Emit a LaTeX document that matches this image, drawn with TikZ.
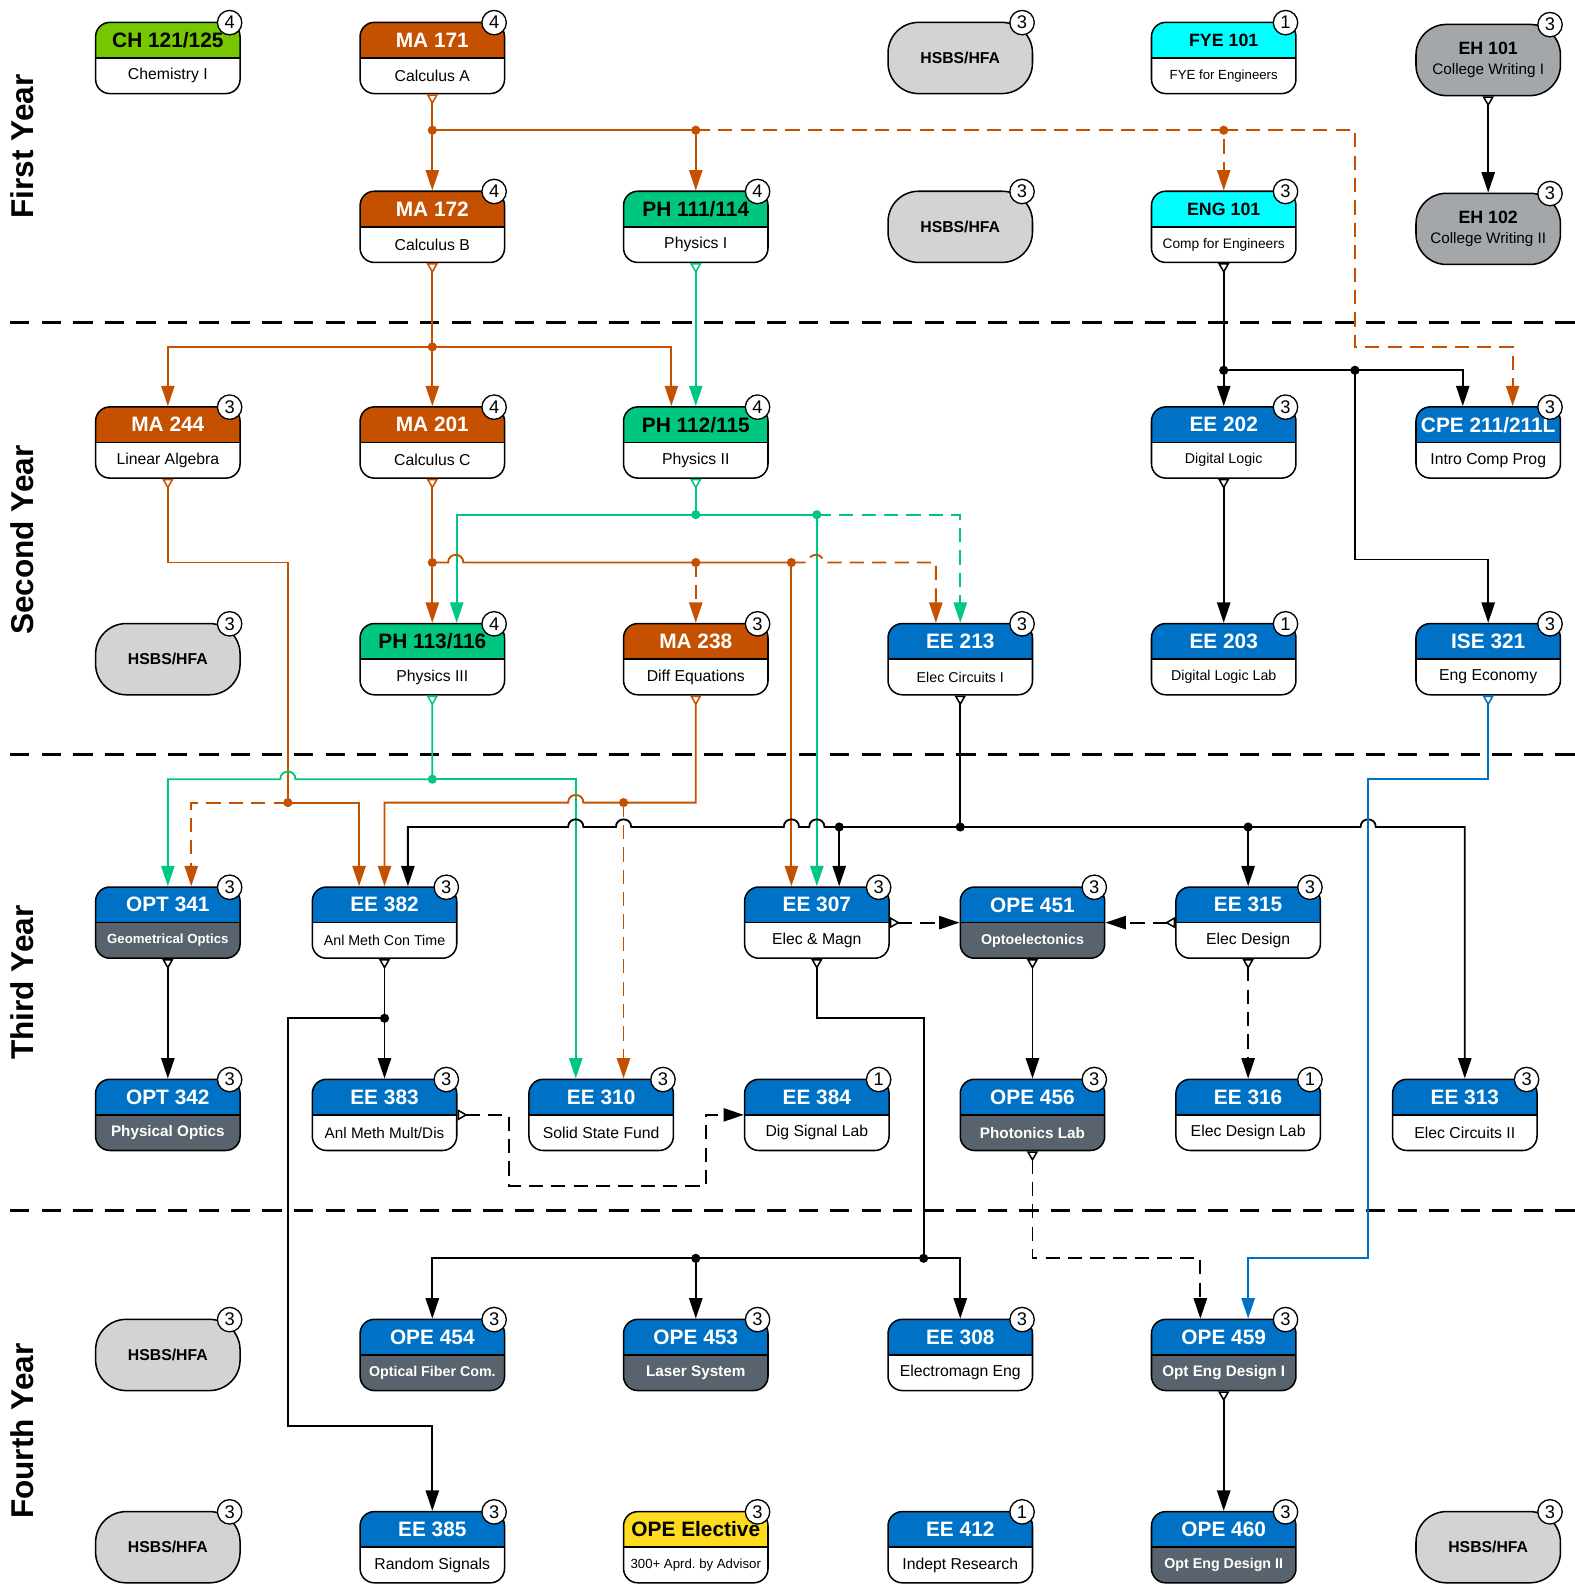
\documentclass[tikz,border=0pt]{standalone}
\usepackage{fontspec}
\setmainfont{Liberation Sans}
\usetikzlibrary{arrows.meta}

\definecolor{mathc}{RGB}{197,80,0}
\definecolor{physc}{RGB}{0,199,128}
\definecolor{chemc}{RGB}{118,198,0}
\definecolor{fyec}{RGB}{0,255,255}
\definecolor{eec}{RGB}{0,114,198}
\definecolor{optgray}{RGB}{89,99,109}
\definecolor{electc}{RGB}{255,219,31}
\definecolor{hsgray}{RGB}{209,211,212}
\definecolor{ehgray}{RGB}{164,167,170}

\newcommand\tsz[1]{\fontsize{#1}{#1}\selectfont}
% line hops over a crossing vertical line
\newcommand\hopr[2]{-- (#1-7.5,#2) .. controls +(0,-10) and +(0,-10) .. (#1+7.5,#2)}
\newcommand\hopl[2]{-- (#1+7.5,#2) .. controls +(0,-10) and +(0,-10) .. (#1-7.5,#2)}

\tikzset{
  course/.style={draw, line width=1.5, rounded corners=14, minimum width=142, minimum height=70, inner sep=0},
  plainbody/.style={fill=white, text=black, font=\tsz{15.5}},
  optbody/.style={fill=optgray, text=white, font=\bfseries\tsz{15}},
  ccode/.style={inner sep=0, font=\bfseries\tsz{20.5}},
  ctitle/.style={inner sep=0},
  badge/.style={circle, draw, line width=1.3, fill=white, inner sep=0, minimum size=24, font=\tsz{18}},
  gened/.style={draw, line width=1.5, rounded corners=30, fill=hsgray, minimum width=142, minimum height=70, font=\bfseries\tsz{15.5}},
  ehpill/.style={gened, fill=ehgray, align=center, font=\fontsize{15}{20}\selectfont},
  yearlbl/.style={rotate=90, font=\bfseries\tsz{31}},
  yearsep/.style={line width=3, dash pattern=on 19pt off 12pt},
  mline/.style={draw=mathc, line width=1.8},
  pline/.style={draw=physc, line width=1.8},
  bline/.style={draw=black, line width=1.8},
  eline/.style={draw=eec, line width=1.8},
  dashline/.style={dash pattern=on 14pt off 8pt},
  chead/.tip={Triangle[length=20pt,width=13pt]},
  ctail/.tip={Triangle[open,reversed,length=10pt,width=11pt,line width=1.5pt]},
}

% course box: [body style]{name}{position}{head colour}{head text colour}{code}{title}{credits}
\newcommand{\course}[8][plainbody]{%
  \node[course, #1, path picture={%
      \fill[#4, sharp corners] (path picture bounding box.north west) rectangle (path picture bounding box.east);
      \draw[draw=black, line width=1.5, sharp corners] (path picture bounding box.west) -- (path picture bounding box.east);}]
    (#2) at (#3) {};
  \node[ccode, text=#5] (#2-code) at ([yshift=17.5]#2.center) {#6};
  \node[ctitle, #1] (#2-title) at ([yshift=-17.5]#2.center) {#7};
  \node[badge] (#2-cr) at ([xshift=-11,yshift=-1]#2.north east) {#8};
}
\newcommand{\pill}[5][gened]{%
  \node[#1] (#2) at (#3) {#4};
  \node[badge] (#2-cr) at ([xshift=-11,yshift=-1]#2.north east) {#5};
}

\begin{document}
\begin{tikzpicture}[x=1pt, y=-1pt]
    \path[use as bounding box, fill=white] (0,0) rectangle (1548,1568);

    % years
    \node[yearlbl] (y1) at (22,144) {First Year};
    \node[yearlbl] (y2) at (22,531) {Second Year};
    \node[yearlbl] (y3) at (22,966) {Third Year};
    \node[yearlbl] (y4) at (22,1407) {Fourth Year};
    \draw[yearsep] (10,317) -- (1548,317);
    \draw[yearsep] (10,742) -- (1548,742);
    \draw[yearsep] (10,1190) -- (1548,1190);

    % first year
    \course{ch121}{165,57}{chemc}{black}{CH 121/125}{Chemistry I}{4}
    \course{ma171}{425,57}{mathc}{white}{MA 171}{Calculus A}{4}
    \pill{hs1a}{944,57}{HSBS/HFA}{3}
    \course{fye101}{1203,57}{fyec}{black}{\tsz{17.5}FYE 101}{\tsz{13}FYE for Engineers}{1}
    \pill[ehpill]{eh101}{1463,59}{{\bfseries\tsz{17.5}EH 101}\\College Writing I}{3}
    \course{ma172}{425,223}{mathc}{white}{MA 172}{Calculus B}{4}
    \course{ph111}{684,223}{physc}{black}{PH 111/114}{Physics I}{4}
    \pill{hs1b}{944,223}{HSBS/HFA}{3}
    \course{eng101}{1203,223}{fyec}{black}{\tsz{17.5}ENG 101}{\tsz{13.5}Comp for Engineers}{3}
    \pill[ehpill]{eh102}{1463,225}{{\bfseries\tsz{17.5}EH 102}\\College Writing II}{3}

    % second year
    \course{ma244}{165,435}{mathc}{white}{MA 244}{Linear Algebra}{3}
    \course{ma201}{425,435}{mathc}{white}{MA 201}{Calculus C}{4}
    \course{ph112}{684,435}{physc}{black}{PH 112/115}{Physics II}{4}
    \course{ee202}{1203,435}{eec}{white}{EE 202}{\tsz{14}Digital Logic}{3}
    \course{cpe211}{1463,435}{eec}{white}{CPE 211/211L}{Intro Comp Prog}{3}
    \pill{hs2}{165,648}{HSBS/HFA}{3}
    \course{ph113}{425,648}{physc}{black}{PH 113/116}{Physics III}{4}
    \course{ma238}{684,648}{mathc}{white}{MA 238}{Diff Equations}{3}
    \course{ee213}{944,648}{eec}{white}{EE 213}{\tsz{14}Elec Circuits I}{3}
    \course{ee203}{1203,648}{eec}{white}{EE 203}{\tsz{14}Digital Logic Lab}{1}
    \course{ise321}{1463,648}{eec}{white}{ISE 321}{Eng Economy}{3}

    % third year
    \course[optbody]{opt341}{165,907}{eec}{white}{OPT 341}{\tsz{13}Geometrical Optics}{3}
    \course{ee382}{378,907}{eec}{white}{EE 382}{\tsz{14}Anl Meth Con Time}{3}
    \course{ee307}{803,907}{eec}{white}{EE 307}{Elec \& Magn}{3}
    \course[optbody]{ope451}{1015,907}{eec}{white}{OPE 451}{\tsz{14}Optoelectonics}{3}
    \course{ee315}{1227,907}{eec}{white}{EE 315}{Elec Design}{3}
    \course[optbody]{opt342}{165,1096}{eec}{white}{OPT 342}{Physical Optics}{3}
    \course{ee383}{378,1096}{eec}{white}{EE 383}{\tsz{15}Anl Meth Mult/Dis}{3}
    \course{ee310}{591,1096}{eec}{white}{EE 310}{Solid State Fund}{3}
    \course{ee384}{803,1096}{eec}{white}{EE 384}{Dig Signal Lab}{1}
    \course[optbody]{ope456}{1015,1096}{eec}{white}{OPE 456}{Photonics Lab}{3}
    \course{ee316}{1227,1096}{eec}{white}{EE 316}{Elec Design Lab}{1}
    \course{ee313}{1440,1096}{eec}{white}{EE 313}{Elec Circuits II}{3}

    % fourth year
    \pill{hs4a}{165,1332}{HSBS/HFA}{3}
    \course[optbody]{ope454}{425,1332}{eec}{white}{OPE 454}{\tsz{14}Optical Fiber Com.}{3}
    \course[optbody]{ope453}{684,1332}{eec}{white}{OPE 453}{Laser System}{3}
    \course{ee308}{944,1332}{eec}{white}{EE 308}{Electromagn Eng}{3}
    \course[optbody]{ope459}{1203,1332}{eec}{white}{OPE 459}{Opt Eng Design I}{3}
    \pill{hs4b}{165,1521}{HSBS/HFA}{3}
    \course{ee385}{425,1521}{eec}{white}{EE 385}{Random Signals}{3}
    \course{opeel}{684,1521}{electc}{black}{OPE Elective}{\tsz{13}300+ Aprd.\ by Advisor}{3}
    \course{ee412}{944,1521}{eec}{white}{EE 412}{Indept Research}{1}
    \course[optbody]{ope460}{1203,1521}{eec}{white}{OPE 460}{\tsz{14}Opt Eng Design II}{3}
    \pill{hs4c}{1463,1521}{HSBS/HFA}{3}

    % junctions
    \coordinate (jA1) at (425,128);
    \coordinate (jA2) at (684,128);
    \coordinate (jA3) at (1203,128);
    \coordinate (jE1) at (1203,364);
    \coordinate (jE2) at (1332,364);
    \coordinate (jB1) at (425,341);
    \coordinate (jG1) at (684,506);
    \coordinate (jG2) at (803,506);
    \coordinate (jC1) at (425,553);
    \coordinate (jC2) at (684,553);
    \coordinate (jC3) at (778,553);
    \coordinate (jP1) at (425,766);
    \coordinate (jL1) at (283,789);
    \coordinate (jD1) at (613,789);
    \coordinate (jK1) at (944,813);
    \coordinate (jK2) at (825,813);
    \coordinate (jK3) at (1227,813);
    \coordinate (jR1) at (378,1001);
    \coordinate (jM1) at (908,1237);
    \coordinate (jM2) at (684,1237);

    % first year links
    \draw[mline, ctail-chead] (ma171.south) -- (ma172.north);
    \draw[mline, -chead] (jA1) -| (ph111.north);
    \draw[mline, dashline, -chead] (jA2) -| (eng101.north);
    \draw[mline, dashline, -chead] (jA3) -| (1332,341) -| ([xshift=24]cpe211.north);
    \draw[bline, ctail-chead] (eh101.south) -- (eh102.north);
    \draw[bline, ctail-chead] (eng101.south) -- (ee202.north);
    \draw[bline, -chead] (jE1) -| ([xshift=-25]cpe211.north);
    \draw[bline, -chead] (jE2) -- (1332,550) -| (ise321.north);

    % second year links
    \draw[mline, ctail-chead] (ma172.south) -- (ma201.north);
    \draw[mline, -chead] (jB1) -| (ma244.north);
    \draw[mline, -chead] (jB1) -| ([xshift=-24]ph112.north);
    \draw[pline, ctail-chead] (ph111.south) -- (ph112.north);
    \draw[pline, ctail-chead] (ph112.south) -- (jG1) -| ([xshift=24]ph113.north);
    \draw[pline, -chead] (jG1) -| (ee307.north);
    \draw[pline, dashline, -chead] (jG2) -| (ee213.north);
    \draw[mline, ctail-chead] (ma201.south) -- (ph113.north);
    \draw[mline] (jC1) \hopr{448}{553} -- (jC3);
    \draw[mline, dashline, -chead] (jC2) -- (ma238.north);
    \draw[mline, -chead] (jC3) -- (jC3 |- ee307.north);
    \draw[mline, dashline, -chead] (jC3) \hopr{802}{553} -| ([xshift=-24]ee213.north);
    \draw[bline, ctail-chead] (ee202.south) -- (ee203.north);

    % third year links
    \draw[mline, ctail-chead] (ma244.south) |- (jL1 |- jC1) -- (jL1) -| ([xshift=-25]ee382.north);
    \draw[mline, dashline, -chead] (jL1) -| ([xshift=23]opt341.north);
    \draw[pline, ctail-chead] (ph113.south) -- (jP1) \hopl{283}{766} -| (opt341.north);
    \draw[pline, -chead] (jP1) -| ([xshift=-25]ee310.north);
    \draw[mline, ctail-chead] (ma238.south) |- (jD1) \hopl{566}{789} -| (ee382.north);
    \draw[mline, dashline, -chead] (jD1) -- (jD1 |- ee310.north);
    \draw[bline, ctail-] (ee213.south) -- (jK1);
    \draw[bline, -chead] (jK1) -| ([xshift=22]ee307.north);
    \draw[bline, -chead] (jK2) \hopl{803}{813} \hopl{778}{813} \hopl{613}{813} \hopl{566}{813} -| ([xshift=23]ee382.north);
    \draw[bline, -chead] (jK1) -| (ee315.north);
    \draw[bline, -chead] (jK3) \hopr{1345}{813} -| (ee313.north);
    \draw[eline, ctail-chead] (ise321.south) -- (1463,766) -| (1345,1237) -| ([xshift=24]ope459.north);
    \draw[bline, ctail-chead] (opt341.south) -- (opt342.north);
    \draw[bline, ctail-chead] (ee382.south) -- (ee383.north);
    \draw[bline, -chead] (jR1) -| (283,1402) -| (ee385.north);
    \draw[bline, dashline, ctail-chead] (ee383.east) -- (500,1096) |- (694,1166) |- (ee384.west);
    \draw[bline, dashline, ctail-chead] (ee307.east) -- (ope451.west);
    \draw[bline, dashline, ctail-chead] (ee315.west) -- (ope451.east);
    \draw[bline, ctail-chead] (ope451.south) -- (ope456.north);
    \draw[bline, dashline, ctail-chead] (ee315.south) -- (ee316.north);

    % fourth year links
    \draw[bline, ctail-] (ee307.south) |- (jM1 |- jR1) -- (jM1);
    \draw[bline, -chead] (jM1) -| (ope454.north);
    \draw[bline, -chead] (jM2) -- (ope453.north);
    \draw[bline, -chead] (jM1) -| (ee308.north);
    \draw[bline, dashline, ctail-chead] (ope456.south) -- (ope456.south |- jM1) -| ([xshift=-23]ope459.north);
    \draw[bline, ctail-chead] (ope459.south) -- (ope460.north);

    % junction dots
    \fill[mathc] (jA1) circle (4.5);
    \fill[mathc] (jA2) circle (4.5);
    \fill[mathc] (jA3) circle (4.5);
    \fill[mathc] (jB1) circle (4.5);
    \fill[mathc] (jC1) circle (4.5);
    \fill[mathc] (jC2) circle (4.5);
    \fill[mathc] (jC3) circle (4.5);
    \fill[mathc] (jL1) circle (4.5);
    \fill[mathc] (jD1) circle (4.5);
    \fill[physc] (jG1) circle (4.5);
    \fill[physc] (jG2) circle (4.5);
    \fill[physc] (jP1) circle (4.5);
    \fill (jE1) circle (4.5);
    \fill (jE2) circle (4.5);
    \fill (jK1) circle (4.5);
    \fill (jK2) circle (4.5);
    \fill (jK3) circle (4.5);
    \fill (jR1) circle (4.5);
    \fill (jM1) circle (4.5);
    \fill (jM2) circle (4.5);
\end{tikzpicture}
\end{document}
